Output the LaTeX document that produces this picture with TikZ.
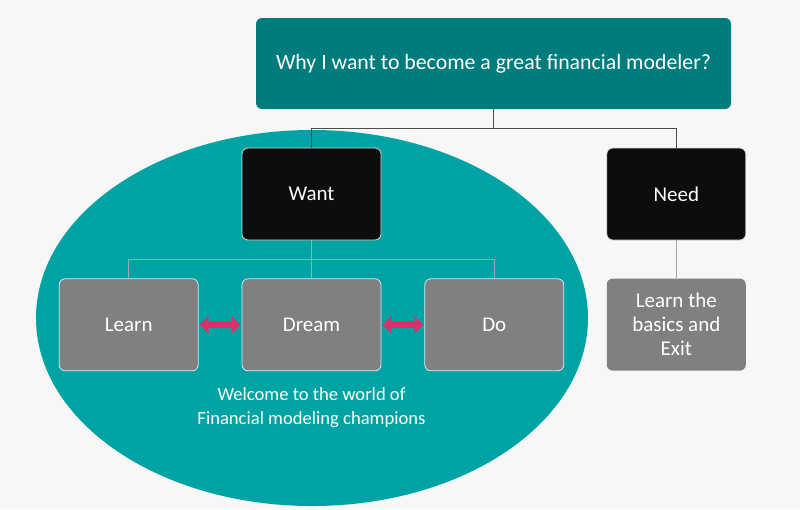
\documentclass[tikz,border=0pt]{standalone}
\usepackage{fontspec}
\setmainfont{Carlito}
\usetikzlibrary{positioning,arrows.meta}
\definecolor{bgc}{RGB}{247,247,247}
\definecolor{topc}{RGB}{0,124,124}
\definecolor{ovalc}{RGB}{0,163,163}
\definecolor{boxc}{RGB}{128,128,128}
\definecolor{darkc}{RGB}{13,13,13}
\definecolor{arrc}{RGB}{214,51,108}
\begin{document}
\begin{tikzpicture}[x=1pt, y=1pt, node distance=38pt and 43pt,
		b/.style={rectangle, rounded corners=6pt, minimum width=139pt, minimum height=92pt, text=white, font=\fontsize{21}{24}\selectfont, align=center},
		dark/.style={fill=darkc, draw=white!85!black, line width=0.8pt},
		grey/.style={fill=boxc, draw=white!80!cyan, line width=0.8pt},
		link/.style={draw=black!70, line width=0.9pt},
		sublink/.style={draw=black!35, line width=0.9pt},
		dbl/.style={{Triangle[length=9pt,width=17pt]}-{Triangle[length=9pt,width=17pt]}, arrc, line width=7pt, shorten <=1pt, shorten >=1pt}]
		\fill[bgc] (0,0) rectangle (800,-509);
		\useasboundingbox (0,0) rectangle (800,-509);
		\fill[ovalc] (312,-318) ellipse [x radius=276, y radius=188];

		\node [b, fill=topc, minimum width=475pt, minimum height=91pt, font=\fontsize{21.8}{24}\selectfont] (Q) at (493.5,-63.5) {Why I want to become a great financial modeler?};
		\node [b, dark] (W) at (311.5,-194) {Want};
		\node [b, dark, right=225pt of W] (N) {Need};
		\node [b, grey, below=of W] (Dr) {Dream};
		\node [b, grey, left =of Dr] (L) {Learn};
		\node [b, grey, right=of Dr] (Do) {Do};
		\node [b, fill=boxc, below=of N] (E) {Learn the\\basics and\\Exit};
		\node [text=white, font=\fontsize{18.6}{24}\selectfont, align=center] (T) at (311.5,-408) {Welcome to the world of\\Financial modeling champions};

		\draw[link] (Q.south) -- ++(0,-19) -| (W.north);
		\draw[link] (Q.south) -- ++(0,-19) -| (N.north);
		\draw[sublink] (W.south) -- ++(0,-19) -| (L.north);
		\draw[sublink] (W.south) -- (Dr.north);
		\draw[sublink] (W.south) -- ++(0,-19) -| (Do.north);
		\draw[sublink] (N.south) -- (E.north);

		\path[dbl] (L) edge (Dr);
		\path[dbl] (Dr) edge (Do);
	\end{tikzpicture}
\end{document}
